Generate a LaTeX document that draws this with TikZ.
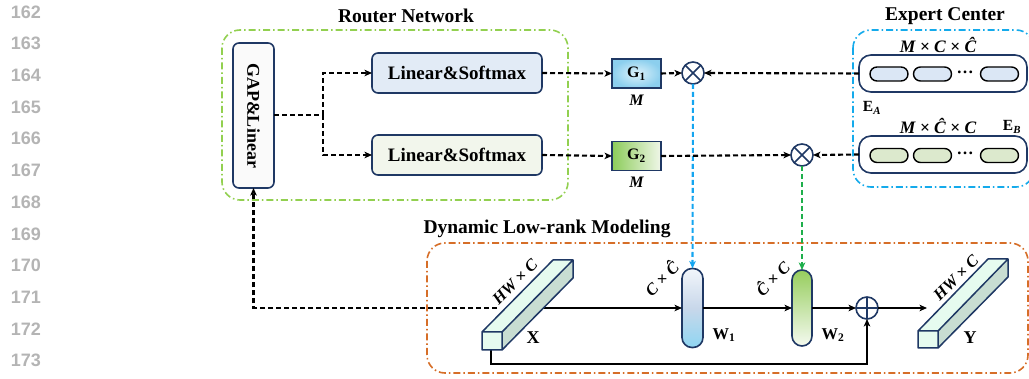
\documentclass[tikz,border=0pt]{standalone}
\usepackage{fontspec}
\setmainfont{Liberation Serif}
\usetikzlibrary{arrows.meta,calc}
\newfontfamily\numfont{Liberation Sans}

\definecolor{navy}{RGB}{31,56,100}
\definecolor{lnum}{RGB}{180,180,180}
\definecolor{rgreen}{RGB}{146,208,80}
\definecolor{eblue}{RGB}{20,170,235}
\definecolor{dorange}{RGB}{214,110,40}
\definecolor{arrblue}{RGB}{20,165,240}
\definecolor{arrgreen}{RGB}{30,175,75}
\definecolor{linfillA}{RGB}{226,235,246}
\definecolor{linfillB}{RGB}{242,246,236}
\definecolor{gapfill}{RGB}{250,250,250}
\definecolor{pillA}{RGB}{219,231,245}
\definecolor{pillB}{RGB}{220,233,205}
\definecolor{prismlight}{RGB}{230,251,239}
\definecolor{prismside}{RGB}{200,221,210}

\newcommand\fs[1]{\fontsize{#1}{#1}\selectfont}

\begin{document}
\begin{tikzpicture}[x=1pt,y=-1pt,
  every node/.style={inner sep=0pt, outer sep=0pt},
  blockbox/.style={draw=navy, line width=1.6pt, rounded corners=6pt,
    font=\fs{19}\bfseries},
  gatebox/.style={draw=navy, line width=1.4pt, minimum width=49pt, minimum height=29pt,
    font=\fs{16}\bfseries},
  groupbox/.style={line width=1.6pt, dash pattern=on 7pt off 3pt on 1.5pt off 3pt,
    rounded corners=18pt},
  grouptitle/.style={font=\fs{19.5}\bfseries},
  dimlabel/.style={font=\fs{16.5}\bfseries\itshape},
  tip/.style={-{Stealth[length=7.5pt,width=6.5pt,inset=2pt]}},
  dline/.style={line width=2.1pt, dash pattern=on 5pt off 3pt, tip},
  sline/.style={line width=2pt, tip},
  opcircle/.style={circle, draw=navy, line width=1.6pt, minimum size=22pt, fill=white},
  pillv/.style={draw=navy, line width=1.6pt, rounded corners=10pt},
  epill/.style={draw=navy, line width=1.6pt, rounded corners=12pt, fill=white,
    minimum width=168pt, minimum height=37pt},
  ipill/.style={draw=black, line width=1.4pt, rounded corners=7pt,
    minimum width=38pt, minimum height=14pt},
  prismedge/.style={draw=navy, line width=1.5pt, line join=round}
]
\useasboundingbox (0,0) rectangle (1029,379);

% line numbers in the margin
\foreach \n [count=\i from 0] in {162,...,173}
  \node[font=\numfont\fs{18}\bfseries, text=lnum]
    at (26,{12+31.7*\i}) {\n};

% ---------------- group frames ----------------
\draw[groupbox, draw=rgreen] (222,30) rectangle (568,200);
\node[grouptitle] (rtitle) at (406,16) {Router Network};

\draw[groupbox, draw=eblue] (853,30) rectangle (1034,187);
\node[grouptitle] (etitle) at (945,16) {Expert Center};

\draw[groupbox, draw=dorange] (427,243) rectangle (1028,373);
\node[grouptitle] (dtitle) at (547,229) {Dynamic Low-rank Modeling};

% ---------------- router network ----------------
\node[blockbox, fill=gapfill, minimum width=41pt, minimum height=145pt] (gap) at (253.5,115.5) {};
\node[font=\fs{18}\bfseries, rotate=-90] (gaptext) at (gap.center) {GAP\&Linear};

\node[blockbox, fill=linfillA, minimum width=170pt, minimum height=40pt] (lin1) at (457,73) {Linear\&Softmax};
\node[blockbox, fill=linfillB, minimum width=170pt, minimum height=40pt] (lin2) at (457,155) {Linear\&Softmax};

\node[gatebox, inner color={rgb,255:red,222;green,242;blue,251}, outer color={rgb,255:red,140;green,207;blue,238}] (g1) at (636.5,73.5) {G\textsubscript{1}};
\node[gatebox, left color={rgb,255:red,140;green,204;blue,90}, right color={rgb,255:red,240;green,247;blue,233}] (g2) at (636.5,156) {G\textsubscript{2}};
\node[font=\fs{16}\bfseries\itshape] (m1) at (636.5,100) {M};
\node[font=\fs{16}\bfseries\itshape] (m2) at (636.5,182) {M};

\node[opcircle] (ot1) at (693,73) {};
\draw[navy, line width=1.5pt] (ot1.north west) -- (ot1.south east) (ot1.north east) -- (ot1.south west);
\node[opcircle] (ot2) at (802,155) {};
\draw[navy, line width=1.5pt] (ot2.north west) -- (ot2.south east) (ot2.north east) -- (ot2.south west);

% ---------------- expert center ----------------
\node[epill] (ea) at (943,73.5) {};
\node[ipill, fill=pillA] (ea1) at (889,74) {};
\node[ipill, fill=pillA] (ea2) at (932.5,74) {};
\node[ipill, fill=pillA] (ea3) at (999.5,74) {};
\node[font=\fs{17}\bfseries] (ead) at (965,72) {…};

\node[epill] (eb) at (943,154.5) {};
\node[ipill, fill=pillB] (eb1) at (889,155.5) {};
\node[ipill, fill=pillB] (eb2) at (932.5,155.5) {};
\node[ipill, fill=pillB] (eb3) at (999.5,155.5) {};
\node[font=\fs{17}\bfseries] (ebd) at (965,153.5) {…};

\node[dimlabel, font=\fs{17.5}\bfseries\itshape] (eadim) at (938,45) {M × C × Ĉ};
\node[dimlabel, font=\fs{17.5}\bfseries\itshape] (ebdim) at (938,126) {M × Ĉ × C};
\node[font=\fs{15.5}\bfseries] (ealab) at (872,108) {E\textsubscript{\textit{A}}};
\node[font=\fs{15.5}\bfseries] (eblab) at (1012,127) {E\textsubscript{\textit{B}}};

% ---------------- dynamic low-rank modeling ----------------
\node[pillv, minimum width=21pt, minimum height=79pt,
  top color={rgb,255:red,242;green,246;blue,251}, bottom color={rgb,255:red,143;green,214;blue,242},
  middle color={rgb,255:red,200;green,215;blue,234}] (w1) at (692.5,308) {};
\node[pillv, minimum width=20pt, minimum height=76pt,
  top color={rgb,255:red,150;green,205;blue,93}, bottom color={rgb,255:red,245;green,250;blue,240}] (w2) at (802,308) {};
\node[font=\fs{16.5}\bfseries] (w1lab) at (724,335) {W\textsubscript{1}};
\node[font=\fs{16.5}\bfseries] (w2lab) at (833,335) {W\textsubscript{2}};
\node[dimlabel, rotate=45] (w1dim) at (661,278) {C × Ĉ};
\node[dimlabel, rotate=45] (w2dim) at (772,278) {Ĉ × C};

\node[opcircle] (op) at (867,308) {};
\draw[navy, line width=1.5pt] (op.north) -- (op.south) (op.west) -- (op.east);

\coordinate (xin) at (522,308);
\coordinate (xout) at (497,308);
\coordinate (xbot) at (491,350);
\coordinate (yin) at (927,308);

% ---------------- connectors ----------------
\draw[dline, draw=arrblue, color=arrblue] (ot1.south) -- (w1.north);
\draw[dline, draw=arrgreen, color=arrgreen] (ot2.south) -- (w2.north);

\coordinate (br) at (323,115);
\draw[line width=2.1pt, dash pattern=on 5pt off 3pt] (gap.east |- br) -- (br);
\draw[dline] (br) |- (lin1.west);
\draw[dline] (br) |- (lin2.west);
\draw[dline] (lin1.east) -- (g1.west);
\draw[dline] (lin2.east) -- (g2.west);
\draw[dline] (g1.east) -- (ot1.west);
\draw[dline] (g2.east) -- (ot2.west);
\draw[dline] (ea.west) -- (ot1.east);
\draw[dline] (eb.west) -- (ot2.east);

\draw[dline] (xout) -| (gap.south);
\draw[sline] (xin) -- (w1.west);
\draw[sline] (w1.east) -- (w2.west);
\draw[sline] (w2.east) -- (op.west);
\draw[sline] (op.east) -- (yin);
\draw[sline] (xbot) -- (491,364) -| (op.south);

% ---------------- feature prisms ----------------
% X
\fill[prismlight] (482,332) -- (553,260) -- (573,260) -- (502,332) -- cycle;
\fill[prismside] (502,332) -- (573,260) -- (573,278) -- (502,350) -- cycle;
\fill[prismlight] (482,332) rectangle (502,350);
\draw[prismedge] (482,332) -- (553,260) -- (573,260) -- (573,278) -- (502,350)
  (502,332) -- (573,260)
  (482,332) rectangle (502,350);
\node[dimlabel, rotate=45] (xdim) at (515,282) {HW × C};
\node[font=\fs{18}\bfseries] (xlab) at (533,338) {X};

% Y
\fill[prismlight] (918,331) -- (988,259) -- (1008,259) -- (938,331) -- cycle;
\fill[prismside] (938,331) -- (1008,259) -- (1008,277) -- (938,348) -- cycle;
\fill[prismlight] (918,331) rectangle (938,348);
\draw[prismedge] (918,331) -- (988,259) -- (1008,259) -- (1008,277) -- (938,348)
  (938,331) -- (1008,259)
  (918,331) rectangle (938,348);
\node[dimlabel, rotate=45] (ydim) at (956,278) {HW × C};
\node[font=\fs{18}\bfseries] (ylab) at (970,338) {Y};
\end{tikzpicture}
\end{document}
